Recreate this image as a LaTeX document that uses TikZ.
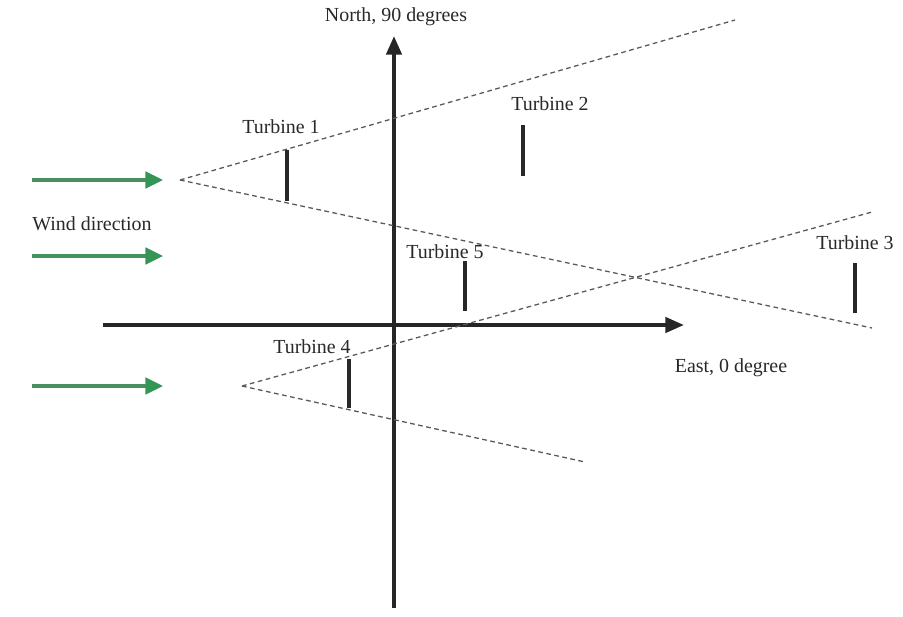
\documentclass[tikz,border=0pt]{standalone}
\usepackage{fontspec}
\setmainfont{Liberation Serif}
\usetikzlibrary{arrows.meta}
\definecolor{windgreen}{RGB}{52,150,84}
\definecolor{inkgray}{RGB}{40,40,40}
\newcommand{\windarrow}[2]{\coordinate (#1s) at (32,#2); \coordinate (#1e) at (163,#2); \draw[windline] (#1s) -- (#1e);}

\begin{document}
\begin{tikzpicture}[x=0.03cm, y=-0.03cm,
  axis/.style={line width=3.4pt, black!85, -{Triangle[length=16pt,width=13pt]}},
  windline/.style={line width=3pt, windgreen!75!gray, -{Triangle[length=15pt,width=14pt,fill=windgreen,color=windgreen]}},
  wake/.style={line width=1.1pt, gray!70!black, dash pattern=on 4pt off 3pt},
  turbineline/.style={line width=3pt, inkgray},
  lbl/.style={inner sep=0pt, text=inkgray, font=\fontsize{17}{19}\selectfont}]
\useasboundingbox (0,0) rectangle (903,616);
% axes
\coordinate (south) at (394,608); \coordinate (north) at (394,36);
\coordinate (west) at (103,325); \coordinate (east) at (684,325);
\draw[axis] (south) -- (north);
\draw[axis] (west) -- (east);
\node[lbl] (northlbl) at (396,17) {North, 90 degrees};
\node[lbl] (eastlbl) at (731,368) {East, 0 degree};
% wind
\windarrow{wa}{180}
\windarrow{wb}{256}
\windarrow{wc}{386}
\node[lbl] (windlbl) at (92,224) {Wind direction};
% wakes
\coordinate (apexA) at (180,180);
\coordinate (apexB) at (242,386);
\draw[wake] (apexA) -- (735,20);
\draw[wake] (apexA) -- (872,328);
\draw[wake] (apexB) -- (872,212);
\draw[wake] (apexB) -- (585,462);
% turbines
\draw[turbineline] (287,150) -- (287,201); \node[lbl] (t1) at (281,127) {Turbine 1};
\draw[turbineline] (523,125) -- (523,176); \node[lbl] (t2) at (550,104) {Turbine 2};
\draw[turbineline] (855,263) -- (855,313); \node[lbl] (t3) at (855,243) {Turbine 3};
\draw[turbineline] (349,359) -- (349,408); \node[lbl] (t4) at (312,347) {Turbine 4};
\draw[turbineline] (465,261) -- (465,311); \node[lbl] (t5) at (445,252) {Turbine 5};
\end{tikzpicture}
\end{document}
